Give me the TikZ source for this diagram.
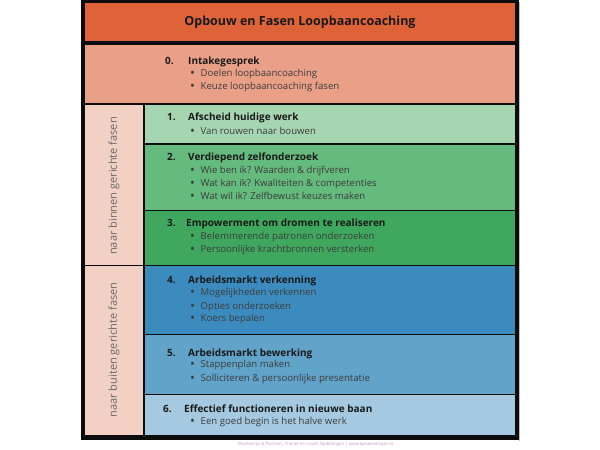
\documentclass[tikz,border=0pt]{standalone}
\usepackage{fontspec}
\setmainfont{Open Sans}
\definecolor{ctitle}{RGB}{222,99,57}
\definecolor{cintake}{RGB}{233,160,135}
\definecolor{cside}{RGB}{243,208,196}
\definecolor{cg1}{RGB}{166,214,177}
\definecolor{cg2}{RGB}{101,186,126}
\definecolor{cg3}{RGB}{63,168,94}
\definecolor{cb1}{RGB}{60,139,190}
\definecolor{cb2}{RGB}{98,163,201}
\definecolor{cb3}{RGB}{164,201,224}
\definecolor{cframe}{RGB}{12,12,12}
\definecolor{chead}{RGB}{25,25,25}
\definecolor{cbul}{RGB}{60,60,60}
\definecolor{cvert}{RGB}{105,105,105}
\definecolor{cfoot}{RGB}{200,150,190}
\newcommand{\bt}{\makebox[10.5pt][l]{\raisebox{-1.3pt}{\scalebox{1.35}{\textbullet}}}}
\tikzset{
  cell/.style={inner sep=0pt, outer sep=0pt, draw=none},
  head/.style={anchor=base west, inner sep=0pt, font=\fontsize{10}{12}\selectfont\bfseries, text=chead},
  bul/.style={anchor=base west, inner sep=0pt, font=\fontsize{9.6}{12}\selectfont, text=cbul},
  vert/.style={rotate=90, inner sep=0pt, font=\fontsize{11}{13}\selectfont, text=cvert},
}
\begin{document}
\begin{tikzpicture}[x=1pt,y=-1pt]
\useasboundingbox (0,0) rectangle (600,450);
\fill[white] (0,0) rectangle (600,450);
% outer frame
\node[cell, fill=cframe, minimum width=438pt, minimum height=440pt, anchor=north west] (frame) at (81,0) {};
\fill[black!25] (519,2) rectangle (520,441);
% regions
\node[cell, fill=ctitle, minimum width=430pt, minimum height=38pt, anchor=north west] (title) at (85,3) {};
\node[cell, fill=cintake, minimum width=430pt, minimum height=58pt, anchor=north west] (r0) at (85,45) {};
\node[cell, fill=cside, minimum width=58pt, minimum height=160pt, anchor=north west] (sideA) at (85,104.5) {};
\node[cell, fill=cside, minimum width=58pt, minimum height=169pt, anchor=north west] (sideB) at (85,266) {};
\node[cell, fill=cg1, minimum width=370.5pt, minimum height=38.5pt, anchor=north west] (r1) at (144.5,104.5) {};
\node[cell, fill=cg2, minimum width=370.5pt, minimum height=65pt, anchor=north west] (r2) at (144.5,144.5) {};
\node[cell, fill=cg3, minimum width=370.5pt, minimum height=53.5pt, anchor=north west] (r3) at (144.5,211) {};
\node[cell, fill=cb1, minimum width=370.5pt, minimum height=67.5pt, anchor=north west] (r4) at (144.5,266) {};
\node[cell, fill=cb2, minimum width=370.5pt, minimum height=58.5pt, anchor=north west] (r5) at (144.5,335) {};
\node[cell, fill=cb3, minimum width=370.5pt, minimum height=40pt, anchor=north west] (r6) at (144.5,395) {};
% title text
\node[inner sep=0pt, font=\fontsize{12.5}{14}\selectfont\bfseries, text=chead] (tt) at (300,22.5) {Opbouw en Fasen Loopbaancoaching};
% side labels
\node[vert] (vA) at (114,186) {naar binnen gerichte fasen};
\node[vert] (vB) at (114,350) {naar buiten gerichte fasen};
% row 0
\node[head] (n0) at (165,64.5) {0.};
\node[head] (h0) at (188,64.5) {Intakegesprek};
\node[bul] (b01) at (190,76) {\bt Doelen loopbaancoaching};
\node[bul] (b02) at (190,89) {\bt Keuze loopbaancoaching fasen};
% row 1
\node[head] (n1) at (167,120.5) {1.};
\node[head] (h1) at (188,120.5) {Afscheid huidige werk};
\node[bul] (b11) at (190,134) {\bt Van rouwen naar bouwen};
% row 2
\node[head] (n2) at (167,160.5) {2.};
\node[head] (h2) at (188,160.5) {Verdiepend zelfonderzoek};
\node[bul] (b21) at (190,173) {\bt Wie ben ik? Waarden \& drijfveren};
\node[bul] (b22) at (190,186.5) {\bt Wat kan ik? Kwaliteiten \& competenties};
\node[bul] (b23) at (190,199.5) {\bt Wat wil ik? Zelfbewust keuzes maken};
% row 3
\node[head] (n3) at (167,226.5) {3.};
\node[head] (h3) at (186,226.5) {Empowerment om dromen te realiseren};
\node[bul] (b31) at (190,239.5) {\bt Belemmerende patronen onderzoeken};
\node[bul] (b32) at (190,252.5) {\bt Persoonlijke krachtbronnen versterken};
% row 4
\node[head] (n4) at (167,283.5) {4.};
\node[head] (h4) at (188,283.5) {Arbeidsmarkt verkenning};
\node[bul] (b41) at (190,295.5) {\bt Mogelijkheden verkennen};
\node[bul] (b42) at (190,309) {\bt Opties onderzoeken};
\node[bul] (b43) at (190,321.5) {\bt Koers bepalen};
% row 5
\node[head] (n5) at (167,356.5) {5.};
\node[head] (h5) at (188,356.5) {Arbeidsmarkt bewerking};
\node[bul] (b51) at (190,367.5) {\bt Stappenplan maken};
\node[bul] (b52) at (190,381.5) {\bt Solliciteren \& persoonlijke presentatie};
% row 6
\node[head] (n6) at (163,412.5) {6.};
\node[head] (h6) at (184,412.5) {Effectief functioneren in nieuwe baan};
\node[bul] (b61) at (190,424.5) {\bt Een goed begin is het halve werk};
% footer
\node[inner sep=0pt, font=\fontsize{4.3}{5}\selectfont, text=cfoot] (foot) at (316,444.5) {Blankestijn \& Partners, Trainer en Coach Opleidingen | www.bpopleidingen.nl};
\end{tikzpicture}
\end{document}
